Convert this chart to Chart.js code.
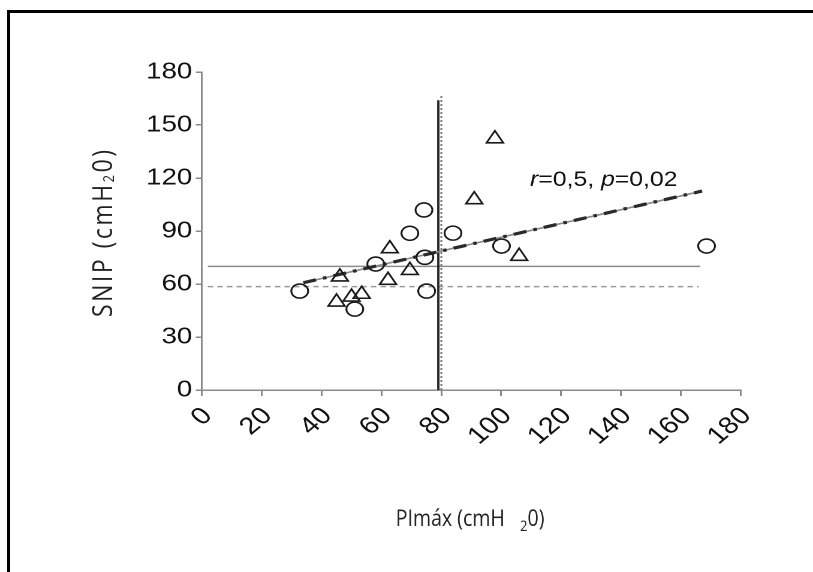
<!DOCTYPE html>
<html>
<head>
<meta charset="utf-8">
<script src="https://cdn.jsdelivr.net/npm/chart.js@4.4.1/dist/chart.umd.min.js"></script>
<style>
  html, body { margin: 0; padding: 0; background: #fff; overflow: hidden; }
  #frame { position: absolute; left: 7px; top: 10px; width: 900px; height: 700px;
           border-left: 3px solid #000; border-top: 3px solid #000; }
  /* the source figure is stretched horizontally, so the chart is drawn narrow and widened */
  #wrap { position: absolute; left: 0; top: 0; width: 678px; height: 572px;
          transform: scaleX(1.1991); transform-origin: 0 0; }
</style>
</head>
<body>
<div id="frame"></div>
<div id="wrap"><canvas id="chart"></canvas></div>
<script>
// PImax (x) vs SNIP (y), cmH2O
const circleX = [32.7, 51.1, 58.1, 69.5, 74.2, 74.5, 75.1, 83.9, 100.1, 168.6];
const circleY = [56.0, 45.8, 71.3, 88.7, 101.9, 75.1, 56.0, 88.8, 81.5, 81.5];
const triX = [45.0, 50.0, 53.4, 46.1, 62.2, 62.8, 69.5, 91.0, 97.9, 106.0];
const triY = [49.8, 52.6, 54.2, 64.0, 62.1, 80.0, 67.7, 107.7, 142.2, 75.7];

const xTicks = [0, 20, 40, 60, 80, 100, 120, 140, 160, 180];
const yTicks = [0, 30, 60, 90, 120, 150, 180];

// cut-off lines and regression
const snipCutSolid = 70;
const snipCutDashed = 58.5;
const hLineFrom = 2, hLineTo = 166.5;
const pimaxCut = 79;
const regX = [33.9, 167.1];
const regY = [60.7, 112.6];

const toPts = (xs, ys) => xs.map((x, i) => ({ x: x, y: ys[i] }));

function lineSet(data, color, width, dash) {
  return {
    data: data, showLine: true, pointRadius: 0, borderColor: color,
    borderWidth: width, borderDash: dash || [], fill: false
  };
}

// draws text runs [text, font, dy]; fits the total width by letter spacing or scaling
function drawRuns(ctx, runs, x, y, target, align) {
  let total = 0, chars = 0;
  runs.forEach(r => { ctx.font = r[1]; total += ctx.measureText(r[0]).width; chars += r[0].length; });
  let k = 1, sp = 0;
  if (target && target < total) k = target / total;
  else if (target) sp = (target - total) / (chars - 1);
  const w = (total + sp * (chars - 1)) * k;
  ctx.save();
  ctx.translate(align === 'center' ? x - w / 2 : x, y);
  ctx.scale(k, 1);
  let cx = 0;
  runs.forEach(r => {
    ctx.font = r[1];
    for (const ch of r[0]) {
      ctx.fillText(ch, cx, r[2] || 0);
      cx += ctx.measureText(ch).width + sp;
    }
  });
  ctx.restore();
}

const textPlugin = {
  id: 'texts',
  afterDraw(chart) {
    const ctx = chart.ctx;
    ctx.save();
    ctx.fillStyle = '#222';
    ctx.textBaseline = 'alphabetic';
    ctx.textAlign = 'left';
    // y title
    ctx.save();
    ctx.translate(93.5, 233.5);
    ctx.rotate(-Math.PI / 2);
    drawRuns(ctx, [
      ['SNIP (cmH', '23px "Open Sans"'],
      ['2', '13px "Open Sans"', 1.5],
      ['0)', '23px "Open Sans"']
    ], 0, 0, 167, 'center');
    ctx.restore();
    // x title
    drawRuns(ctx, [
      ['PImáx (cmH', '23px "Open Sans"'],
      ['   ', '23px "Open Sans"'],
      ['2', '15px "Open Sans"', 5],
      ['0)', '23px "Open Sans"']
    ], 392, 526, 124, 'center');
    // correlation note
    ctx.fillStyle = '#111';
    drawRuns(ctx, [
      ['r', 'italic 21px "Liberation Sans"'],
      ['=0,5, ', '21px "Liberation Sans"'],
      ['p', 'italic 21px "Liberation Sans"'],
      ['=0,02', '21px "Liberation Sans"']
    ], 442, 186, 123, 'left');
    ctx.restore();
  }
};

const axisGray = '#8a8a8a';

new Chart(document.getElementById('chart'), {
  type: 'scatter',
  data: {
    datasets: [
      {
        data: toPts(circleX, circleY), pointStyle: 'circle', pointRadius: 7,
        borderColor: '#1a1a1a', borderWidth: 1.6, backgroundColor: 'rgba(0,0,0,0)'
      },
      {
        data: toPts(triX, triY), pointStyle: 'triangle', pointRadius: 8,
        borderColor: '#1a1a1a', borderWidth: 1.6, backgroundColor: 'rgba(0,0,0,0)'
      },
      lineSet(toPts(regX, regY), '#2a2a2a', 3.2, [11, 6, 3, 6]),
      lineSet(toPts(regX, regY), '#888', 1.6),
      lineSet(toPts([pimaxCut, pimaxCut], [0, 164]), '#2a2a2a', 2),
      lineSet(toPts([pimaxCut + 1, pimaxCut + 1], [0, 167]), '#777', 1.5, [2, 2]),
      lineSet(toPts([hLineFrom, hLineTo], [snipCutSolid, snipCutSolid]), '#8c8c8c', 1.5),
      lineSet(toPts([hLineFrom, hLineTo - 0.5], [snipCutDashed, snipCutDashed]), '#9a9a9a', 1.5, [4.5, 3.5])
    ]
  },
  options: {
    responsive: true,
    maintainAspectRatio: false,
    devicePixelRatio: 2,
    animation: false,
    layout: { padding: { top: 72, right: 60.3, left: 0, bottom: 0 } },
    plugins: { legend: { display: false }, tooltip: { enabled: false } },
    scales: {
      x: {
        type: 'linear', min: 0, max: 180,
        afterBuildTicks: s => { s.ticks = xTicks.map(v => ({ value: v })); },
        afterFit: s => { s.height = 182; },
        ticks: {
          color: '#111', padding: 6, labelOffset: 5, minRotation: 45, maxRotation: 45, autoSkip: false,
          font: { family: 'Liberation Sans', size: 24 }
        },
        grid: { drawOnChartArea: false, drawTicks: true, tickLength: 6, color: axisGray, lineWidth: 1.5 },
        border: { color: axisGray, width: 1.5 }
      },
      y: {
        type: 'linear', min: 0, max: 180,
        afterBuildTicks: s => { s.ticks = yTicks.map(v => ({ value: v })); },
        afterFit: s => { s.width = 168.3; },
        ticks: {
          color: '#111', padding: 3, autoSkip: false,
          font: { family: 'Liberation Sans', size: 23 }
        },
        grid: { drawOnChartArea: false, drawTicks: true, tickLength: 5, color: axisGray, lineWidth: 1.5 },
        border: { color: axisGray, width: 1.5 }
      }
    }
  },
  plugins: [textPlugin]
});
</script>
</body>
</html>
